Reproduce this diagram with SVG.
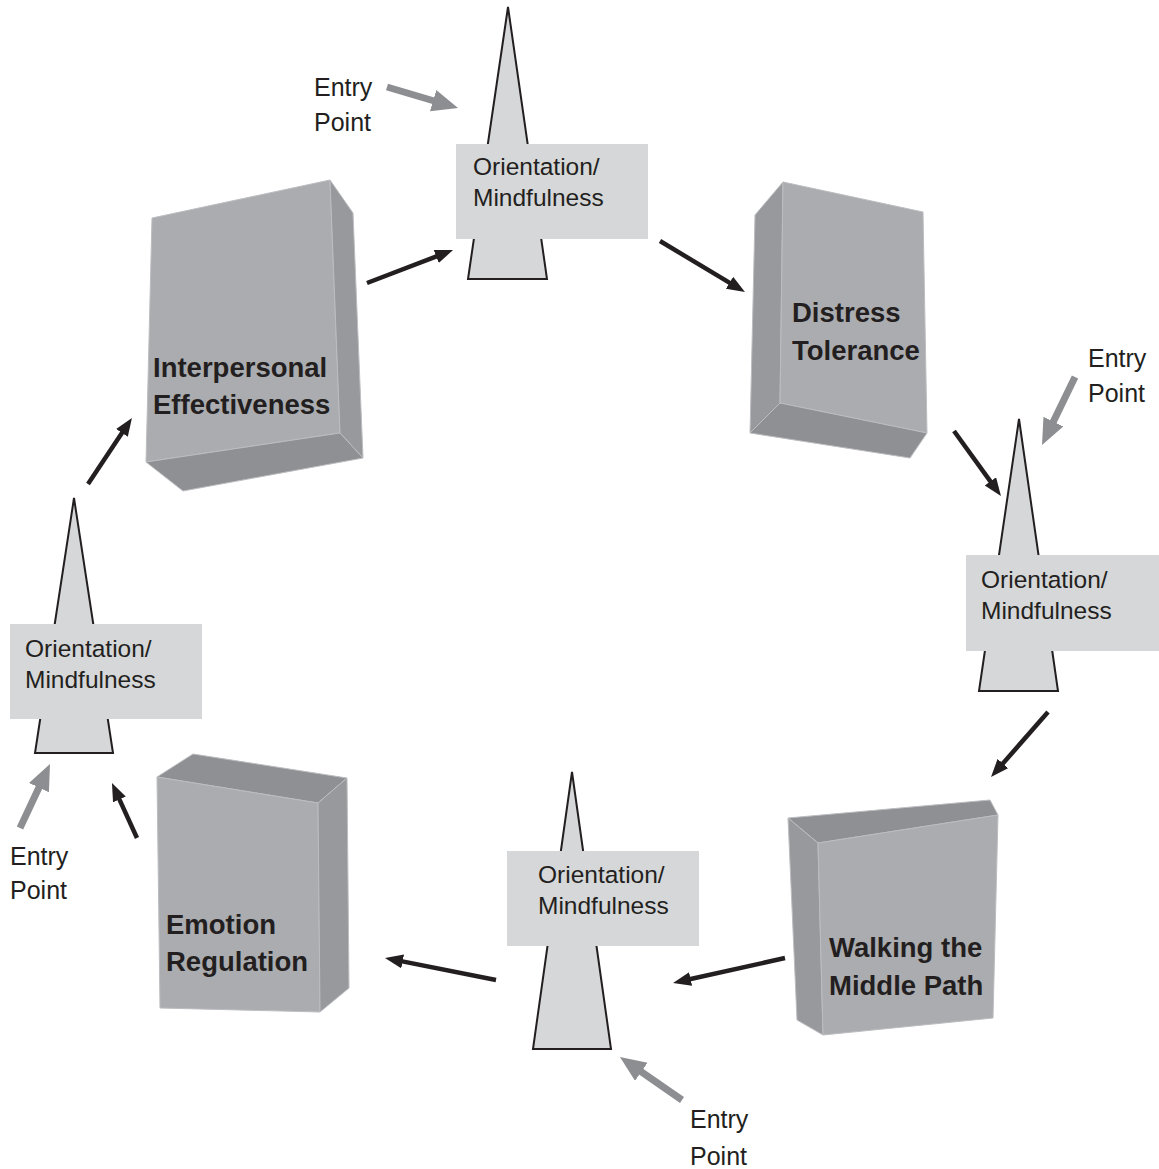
<svg xmlns="http://www.w3.org/2000/svg" width="1159" height="1169" viewBox="0 0 1159 1169">
<defs>
<style>
.bg{fill:#ffffff}
.front{fill:#abacb0;stroke:#bcbdc0;stroke-width:1;stroke-linejoin:round}
.side{fill:#98999d;stroke:#bcbdc0;stroke-width:1;stroke-linejoin:round}
.cap{fill:#8f9094;stroke:#bcbdc0;stroke-width:1;stroke-linejoin:round}
.spire{fill:#d6d7d9;stroke:#231f20;stroke-width:2;stroke-linejoin:miter}
.panel{fill:#d6d7d9}
.lbl{font-family:"Liberation Sans",Arial,sans-serif;font-size:24.5px;fill:#231f20}
.box{font-family:"Liberation Sans",Arial,sans-serif;font-size:27.5px;font-weight:bold;fill:#231f20}
.entry{font-family:"Liberation Sans",Arial,sans-serif;font-size:25px;fill:#231f20}
.blk{stroke:#231f20;stroke-width:4.5;fill:none;marker-end:url(#ah)}
.gry{stroke:#8d8e91;stroke-width:7;fill:none;marker-end:url(#gh)}
</style>
<marker id="ah" markerUnits="userSpaceOnUse" markerWidth="20" markerHeight="16" refX="8" refY="7" orient="auto">
<path d="M0,0 L18,7 L0,14 z" fill="#231f20"/>
</marker>
<marker id="gh" markerUnits="userSpaceOnUse" markerWidth="28" markerHeight="24" refX="10" refY="11" orient="auto">
<path d="M0,0 L26,11 L0,22 z" fill="#8d8e91"/>
</marker>
</defs>
<rect class="bg" x="0" y="0" width="1159" height="1169"/>

<g id="interpersonal-effectiveness">
<polygon class="front" points="152,218 330,180 340,433 146,462"/>
<polygon class="side" points="330,180 353,213 363,458 340,433"/>
<polygon class="cap" points="146,462 340,433 363,458 183,491"/>
<text class="box" x="153" y="377">Interpersonal</text>
<text class="box" x="153" y="414">Effectiveness</text>
</g>

<g id="distress-tolerance">
<polygon class="side" points="755,215 783,182 780,403 750,433"/>
<polygon class="front" points="783,182 923,212 927,433 780,403"/>
<polygon class="cap" points="750,433 780,403 927,433 910,458"/>
<text class="box" x="792" y="322">Distress</text>
<text class="box" x="792" y="360">Tolerance</text>
</g>

<g id="walking-the-middle-path">
<polygon class="cap" points="788,818 990,800 998,815 818,843"/>
<polygon class="side" points="788,818 818,843 823,1035 797,1020"/>
<polygon class="front" points="818,843 998,815 993,1018 823,1035"/>
<text class="box" x="829" y="957">Walking the</text>
<text class="box" x="829" y="995">Middle Path</text>
</g>

<g id="emotion-regulation">
<polygon class="cap" points="157,777 193,754 347,778 318,803"/>
<polygon class="front" points="157,777 318,803 320,1012 160,1008"/>
<polygon class="side" points="318,803 347,778 349,988 320,1012"/>
<text class="box" x="166" y="934">Emotion</text>
<text class="box" x="166" y="971">Regulation</text>
</g>

<g id="orientation-top">
<polygon class="spire" points="508,7 547,279 468,279"/>
<rect class="panel" x="456" y="144" width="192" height="95"/>
<text class="lbl" x="473" y="175">Orientation/</text>
<text class="lbl" x="473" y="206">Mindfulness</text>
</g>

<g id="orientation-right">
<polygon class="spire" points="1019,419 1058,691 979,691"/>
<rect class="panel" x="966" y="555" width="193" height="96"/>
<text class="lbl" x="981" y="588">Orientation/</text>
<text class="lbl" x="981" y="619">Mindfulness</text>
</g>

<g id="orientation-bottom">
<polygon class="spire" points="572,772 611,1049 533,1049"/>
<rect class="panel" x="507" y="851" width="192" height="95"/>
<text class="lbl" x="538" y="883">Orientation/</text>
<text class="lbl" x="538" y="914">Mindfulness</text>
</g>

<g id="orientation-left">
<polygon class="spire" points="74,498 113,753 35,753"/>
<rect class="panel" x="10" y="624" width="192" height="95"/>
<text class="lbl" x="25" y="657">Orientation/</text>
<text class="lbl" x="25" y="688">Mindfulness</text>
</g>

<g id="entry-top">
<text class="entry" x="314" y="96">Entry</text>
<text class="entry" x="314" y="131">Point</text>
</g>
<g id="entry-right">
<text class="entry" x="1088" y="367">Entry</text>
<text class="entry" x="1088" y="402">Point</text>
</g>
<g id="entry-bottom">
<text class="entry" x="690" y="1128">Entry</text>
<text class="entry" x="690" y="1165">Point</text>
</g>
<g id="entry-left">
<text class="entry" x="10" y="865">Entry</text>
<text class="entry" x="10" y="899">Point</text>
</g>

<g id="connectors">
<line class="blk" x1="367" y1="283" x2="443.7" y2="253.6"/>
<line class="blk" x1="660" y1="241" x2="736.4" y2="286.9"/>
<line class="blk" x1="954" y1="431" x2="995.1" y2="487.9"/>
<line class="blk" x1="1048" y1="712" x2="997.6" y2="769.5"/>
<line class="blk" x1="785" y1="958" x2="682.8" y2="980.8"/>
<line class="blk" x1="496" y1="980" x2="394.8" y2="959.9"/>
<line class="blk" x1="137" y1="838" x2="116.1" y2="792.1"/>
<line class="blk" x1="88" y1="484" x2="126.4" y2="426.3"/>
<line class="gry" x1="387" y1="87" x2="442.7" y2="103.5"/>
<line class="gry" x1="1075" y1="377" x2="1049" y2="430.6"/>
<line class="gry" x1="682" y1="1100" x2="633.1" y2="1066.1"/>
<line class="gry" x1="20" y1="828" x2="43.2" y2="778.5"/>
</g>
</svg>
